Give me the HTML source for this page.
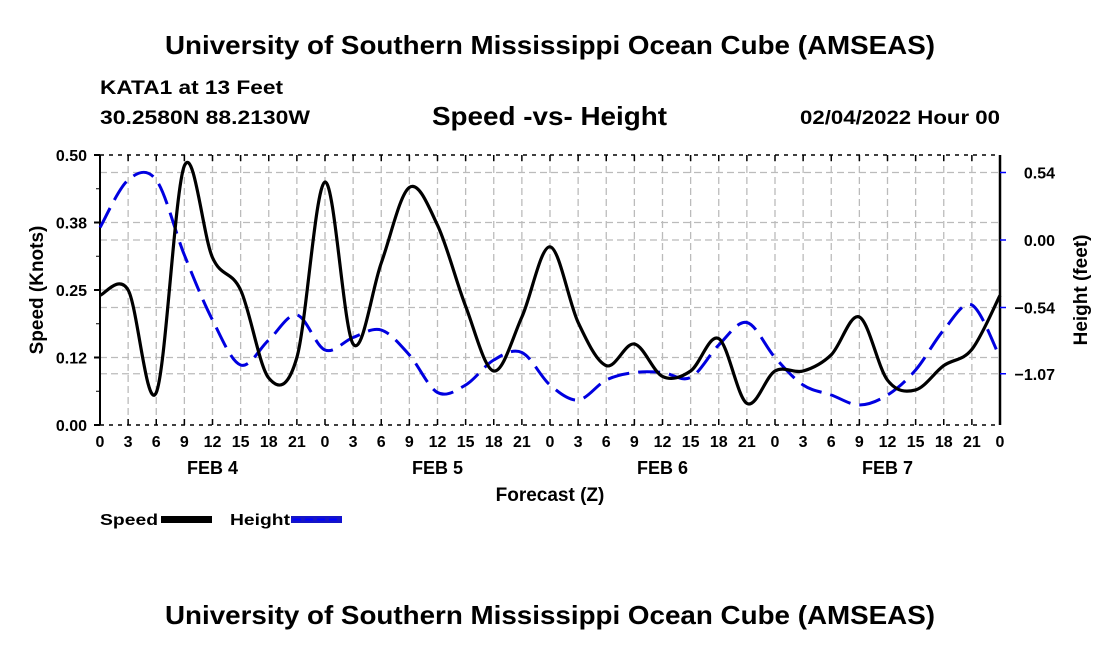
<!DOCTYPE html>
<html><head><meta charset="utf-8"><style>
body{margin:0;background:#fff;}
svg{display:block;font-family:"Liberation Sans",sans-serif;font-weight:bold;}
</style></head><body>
<svg id="chart" width="1100" height="650">
<text x="165" y="54" font-size="26" textLength="770" lengthAdjust="spacingAndGlyphs">University of Southern Mississippi Ocean Cube (AMSEAS)</text>
<text x="100" y="94" font-size="19" textLength="183" lengthAdjust="spacingAndGlyphs">KATA1 at 13 Feet</text>
<text x="100" y="124" font-size="19" textLength="210" lengthAdjust="spacingAndGlyphs">30.2580N  88.2130W</text>
<text x="432" y="125" font-size="26" textLength="235" lengthAdjust="spacingAndGlyphs">Speed -vs- Height</text>
<text x="800" y="124" font-size="19" textLength="200" lengthAdjust="spacingAndGlyphs">02/04/2022 Hour 00</text>
<g id="grid"></g>
<g id="axes"></g>
<g id="series"></g>
<text x="550" y="501" font-size="19" text-anchor="middle">Forecast (Z)</text>
<text transform="translate(43,290) rotate(-90)" font-size="19" text-anchor="middle">Speed (Knots)</text>
<text transform="translate(1087,290) rotate(-90)" font-size="19" text-anchor="middle">Height (feet)</text>
<g>
<text x="100" y="525" font-size="16" textLength="58" lengthAdjust="spacingAndGlyphs">Speed</text>
<rect x="161" y="516" width="51" height="7" fill="#000"/>
<text x="230" y="525" font-size="16" textLength="60" lengthAdjust="spacingAndGlyphs">Height</text>
<rect x="291" y="516" width="51" height="7" fill="#1414c8"/>
<line x1="293" y1="519.5" x2="342" y2="519.5" stroke="#00f" stroke-width="2" stroke-dasharray="8,4"/>
</g>
<text x="165" y="624" font-size="26" textLength="770" lengthAdjust="spacingAndGlyphs">University of Southern Mississippi Ocean Cube (AMSEAS)</text>
</svg>
<script>
const hours=[0,3,6,9,12,15,18,21,24,27,30,33,36,39,42,45,48,51,54,57,60,63,66,69,72,75,78,81,84,87,90,93,96];
const speed=[0.24,0.25,0.06,0.48,0.31,0.25,0.087,0.125,0.45,0.15,0.30,0.44,0.37,0.22,0.10,0.20,0.33,0.19,0.11,0.15,0.09,0.10,0.16,0.04,0.10,0.10,0.13,0.20,0.083,0.065,0.11,0.14,0.24];
const height=[0.10,0.48,0.48,-0.12,-0.64,-1.0,-0.80,-0.60,-0.88,-0.78,-0.72,-0.92,-1.22,-1.16,-0.96,-0.90,-1.16,-1.28,-1.12,-1.06,-1.06,-1.10,-0.84,-0.66,-0.94,-1.16,-1.24,-1.32,-1.24,-1.04,-0.72,-0.52,-0.94];
const speedTicks=[0,0.125,0.25,0.375,0.5];
const speedTickLabels=["0.00","0.12","0.25","0.38","0.50"];
const heightTicks=[0.54,0,-0.54,-1.07];
const heightTickLabels=["0.54","0.00","\u22120.54","\u22121.07"];
const hourLabels=["0","3","6","9","12","15","18","21"];
const dayLabels=["FEB 4","FEB 5","FEB 6","FEB 7"];
const L=100,R=1000,T=155,B=425;
const xS=h=>L+(R-L)*h/96;
const yS=v=>B-(B-T)*v/0.5;
const yH=v=>240-125*v;
const NS="http://www.w3.org/2000/svg";
function mk(tag,at,parent){const e=document.createElementNS(NS,tag);for(const k in at)e.setAttribute(k,at[k]);parent.appendChild(e);return e;}
const grid=document.getElementById('grid'),axes=document.getElementById('axes'),series=document.getElementById('series');
for(let h=3;h<96;h+=3){const g=mk('line',{x1:xS(h),x2:xS(h),y1:T,y2:B,stroke:'#bbb','stroke-width':1.3,'stroke-dasharray':'7,4'},grid);

}
speedTicks.forEach(v=>{if(v>0&&v<0.5){const g=mk('line',{x1:L,x2:R,y1:yS(v),y2:yS(v),stroke:'#bbb','stroke-width':1.3,'stroke-dasharray':'7,4'},grid);

}});
heightTicks.forEach(v=>{const g=mk('line',{x1:L,x2:R,y1:yH(v),y2:yH(v),stroke:'#bbb','stroke-width':1.3,'stroke-dasharray':'7,4'},grid);

});
mk('line',{x1:L,x2:L,y1:T,y2:B,stroke:'#000','stroke-width':2},axes);
mk('line',{x1:R,x2:R,y1:T,y2:B,stroke:'#000','stroke-width':2.5},axes);
mk('line',{x1:L,x2:R,y1:T,y2:T,stroke:'#000','stroke-width':1.5,'stroke-dasharray':'4,5'},axes);
mk('line',{x1:L,x2:R,y1:B,y2:B,stroke:'#000','stroke-width':1.5,'stroke-dasharray':'4,5'},axes);
for(let h=0;h<=96;h+=3){mk('line',{x1:xS(h),x2:xS(h),y1:B-6,y2:B,stroke:'#000','stroke-width':1.5},axes);mk('line',{x1:xS(h),x2:xS(h),y1:T,y2:T+6,stroke:'#000','stroke-width':1.5},axes);
const t=mk('text',{x:xS(h),y:B+22,'font-size':16,'text-anchor':'middle'},axes);t.textContent=hourLabels[(h/3)%8];

}
dayLabels.forEach((d,i)=>{const t=mk('text',{x:xS(12+24*i),y:B+49,'font-size':18,'text-anchor':'middle'},axes);t.textContent=d;

});
speedTicks.forEach((v,i)=>{mk('line',{x1:L-6,x2:L,y1:yS(v),y2:yS(v),stroke:'#000','stroke-width':2},axes);
const t=mk('text',{x:L-13,y:yS(v)+6,'font-size':16,'text-anchor':'end'},axes);t.textContent=speedTickLabels[i];

});
[0.0625,0.1875,0.3125,0.4375].forEach(v=>mk('line',{x1:L-4,x2:L,y1:yS(v),y2:yS(v),stroke:'#000','stroke-width':1},axes));
heightTicks.forEach((v,i)=>{mk('line',{x1:R,x2:R+6,y1:yH(v),y2:yH(v),stroke:'#00f','stroke-width':1.5},axes);
const t=mk('text',{x:1055,y:yH(v)+6,'font-size':16,'text-anchor':'end'},axes);t.textContent=heightTickLabels[i];

});
function path(xs,ys){let p=[];for(let i=0;i<xs.length;i++)p.push([xs[i],ys[i]]);
let d='M'+p[0][0]+','+p[0][1];
for(let i=0;i<p.length-1;i++){const p0=p[Math.max(0,i-1)],p1=p[i],p2=p[i+1],p3=p[Math.min(p.length-1,i+2)];
d+=' C'+(p1[0]+(p2[0]-p0[0])/6)+','+(p1[1]+(p2[1]-p0[1])/6)+' '+(p2[0]-(p3[0]-p1[0])/6)+','+(p2[1]-(p3[1]-p1[1])/6)+' '+p2[0]+','+p2[1];}
return d;}
const hp=mk('path',{d:path(hours.map(xS),height.map(yH)),fill:'none',stroke:'#0000e0','stroke-width':3,'stroke-dasharray':'22,9'},series);


const sp=mk('path',{d:path(hours.map(xS),speed.map(yS)),fill:'none',stroke:'#000','stroke-width':3.2},series);


</script>
</body></html>
